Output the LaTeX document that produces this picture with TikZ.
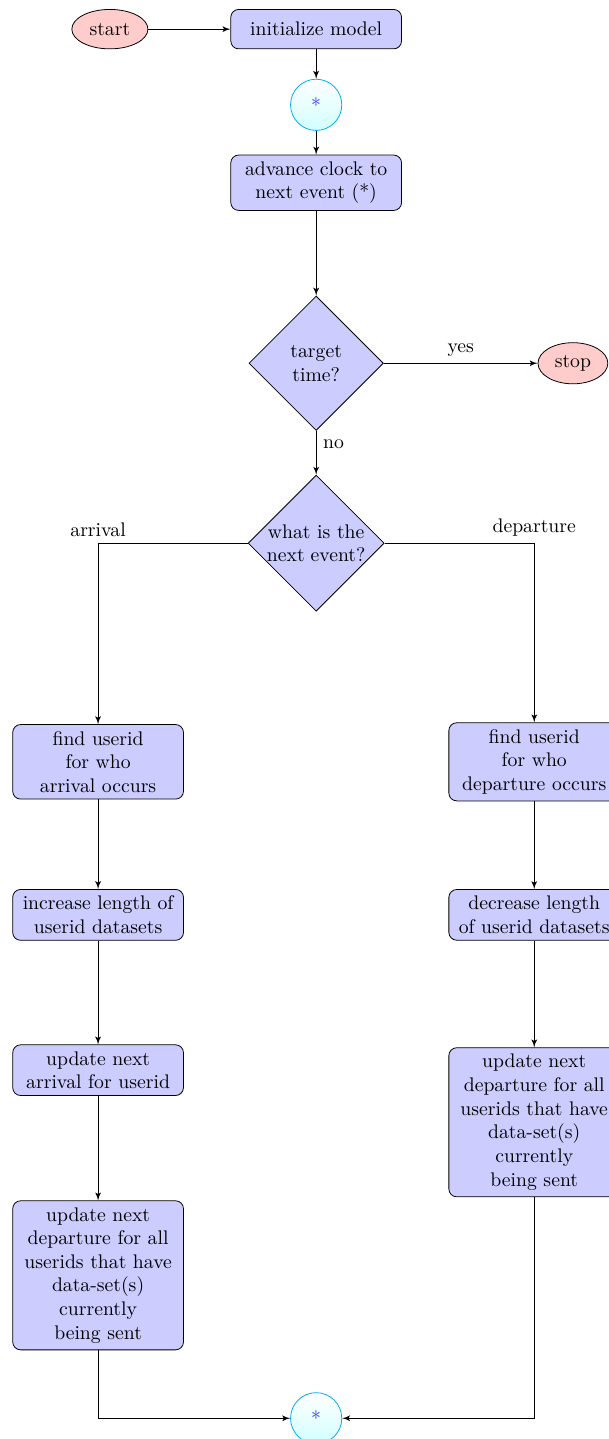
\documentclass[tikz,border=0pt]{standalone}
\usetikzlibrary{shapes.geometric,arrows}
\begin{document}
\begin{tikzpicture}[
  block/.style={rectangle,draw,fill=blue!20,text width=8em,text centered,rounded corners,minimum height=2em},
  decision/.style={diamond,draw,fill=blue!20,text width=5em,text badly centered,inner sep=0pt},
  cloud/.style={ellipse,draw,fill=red!20,minimum height=2em},
  joint/.style={circle,draw=cyan,top color=white,bottom color=cyan!18,text=blue!80,minimum size=26pt},
  line/.style={draw,-latex'}]
\useasboundingbox (0,0) rectangle (10.85,-25.67);
% main loop
\node[cloud] (start) at (1.96,-0.52) {start};
\node[block] (init) at (5.64,-0.52) {initialize model};
\node[joint] (top) at (5.64,-1.87) {*};
\node[block] (clock) at (5.64,-3.26) {advance clock to next event (*)};
\node[decision] (target) at (5.64,-6.48) {target\\ time?};
\node[cloud] (stop) at (10.22,-6.48) {stop};
\node[decision] (event) at (5.64,-9.69) {what is the\\ next event?};
% arrival branch
\node[block] (findarr) at (1.75,-13.59) {find userid\\ for who\\ arrival occurs};
\node[block] (incr) at (1.75,-16.32) {increase length of userid datasets};
\node[block] (nextarr) at (1.75,-19.09) {update next\\ arrival for userid};
\node[block] (deparr) at (1.75,-22.75) {update next\\ departure for all\\ userids that have\\ data-set(s)\\ currently\\ being sent};
% departure branch
\node[block] (finddep) at (9.53,-13.59) {find userid\\ for who\\ departure occurs};
\node[block] (decr) at (9.53,-16.32) {decrease length\\ of userid datasets};
\node[block] (depdep) at (9.53,-20.02) {update next\\ departure for all\\ userids that have\\ data-set(s)\\ currently\\ being sent};
\node[joint] (bottom) at (5.64,-25.30) {*};
% connectors
\path[line] (start) -- (init);
\path[line] (init) -- (top);
\path[line] (top) -- (clock);
\path[line] (clock) -- (target);
\path[line] (target) -- node[above] {yes} (stop);
\path[line] (target) -- node[pos=0.3,right] {no} (event);
\path[line] (event) -| node[above] {arrival} (findarr);
\path[line] (event) -| node[above] {departure} (finddep);
\path[line] (findarr) -- (incr);
\path[line] (incr) -- (nextarr);
\path[line] (nextarr) -- (deparr);
\path[line] (finddep) -- (decr);
\path[line] (decr) -- (depdep);
\path[line] (deparr) |- (bottom);
\path[line] (depdep) |- (bottom);
\end{tikzpicture}
\end{document}
